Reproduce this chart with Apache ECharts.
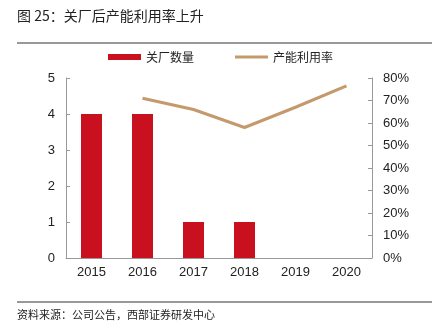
<!DOCTYPE html>
<html><head><meta charset="utf-8">
<script src="https://cdn.jsdelivr.net/npm/echarts@6/dist/echarts.min.js"></script>
<style>html,body{margin:0;padding:0;background:#fff}#c{width:442px;height:327px}</style>
</head><body><div id="c"></div>
<script>
const categories = ['2015','2016','2017','2018','2019','2020'];
const closures = [4, 4, 1, 1, null, null];
const utilization = [null, 71, 66, 58, 67, 76.5];
const leftTicks = [0,1,2,3,4,5];
const rightTickLabels = ['0%','10%','20%','30%','40%','50%','60%','70%','80%'];
const titleText = '图 25：关厂后产能利用率上升';
const sourceText = '资料来源：公司公告，西部证券研发中心';
const FONT = '"Noto Sans CJK SC", "Liberation Sans", sans-serif';
const NUMFONT = '"Liberation Sans", Arial, sans-serif';
const chart = echarts.init(document.getElementById('c'));
chart.setOption({
  animation: false,
  textStyle: {fontFamily: FONT},
  graphic: [
    {type:'text', left:17, top:9, style:{text:titleText, font:'14px '+FONT, fill:'#222'}},
    {type:'line', shape:{x1:17,y1:43,x2:432,y2:43}, style:{stroke:'#333', lineWidth:1}},
    {type:'line', shape:{x1:17,y1:302,x2:432,y2:302}, style:{stroke:'#333', lineWidth:1}},
    {type:'text', left:17, top:309, style:{text:sourceText, font:'11px '+FONT, fill:'#222'}}
  ],
  legend: [
    {top: 51, left: 108, padding: 0, itemWidth: 33, itemHeight: 6, itemGap: 0,
     textStyle: {fontSize: 12, color: '#222', fontFamily: FONT},
     data: [{name:'关厂数量', icon:'rect'}]},
    {top: 51, left: 235, padding: 0, itemWidth: 33, itemHeight: 3, itemGap: 0,
     textStyle: {fontSize: 12, color: '#222', fontFamily: FONT},
     data: [{name:'产能利用率', icon:'rect'}]}
  ],
  grid: {left: 66, right: 70, top: 78, bottom: 69},
  xAxis: {
    type: 'category', data: categories, boundaryGap: true,
    axisLine: {lineStyle: {color: '#999'}},
    axisTick: {inside: true, length: 4, lineStyle: {color: '#999'}},
    axisLabel: {color: '#222', fontSize: 13, margin: 8, fontFamily: NUMFONT}
  },
  yAxis: [
    {type:'value', min:0, max:5, interval:1, position:'left',
     axisLine:{show:true, lineStyle:{color:'#999'}},
     axisTick:{show:true, inside:true, length:4, lineStyle:{color:'#999'}},
     splitLine:{show:false},
     axisLabel:{color:'#222', fontSize:13, margin:11, fontFamily:NUMFONT,
       formatter: v => leftTicks.includes(v) ? String(v) : ''}},
    {type:'value', min:0, max:80, interval:10, position:'right',
     axisLine:{show:true, lineStyle:{color:'#999'}},
     axisTick:{show:true, inside:true, length:4, lineStyle:{color:'#999'}},
     splitLine:{show:false},
     axisLabel:{color:'#222', fontSize:13, margin:11, fontFamily:NUMFONT,
       formatter: v => rightTickLabels[Math.round(v/10)]}}
  ],
  series: [
    {name:'关厂数量', type:'bar', data: closures, barWidth: 21, itemStyle:{color:'#C8101E'}},
    {name:'产能利用率', type:'line', yAxisIndex:1, data: utilization, symbol:'none',
     lineStyle:{color:'#C49A6C', width:3}, itemStyle:{color:'#C49A6C'}}
  ]
});
</script></body></html>
